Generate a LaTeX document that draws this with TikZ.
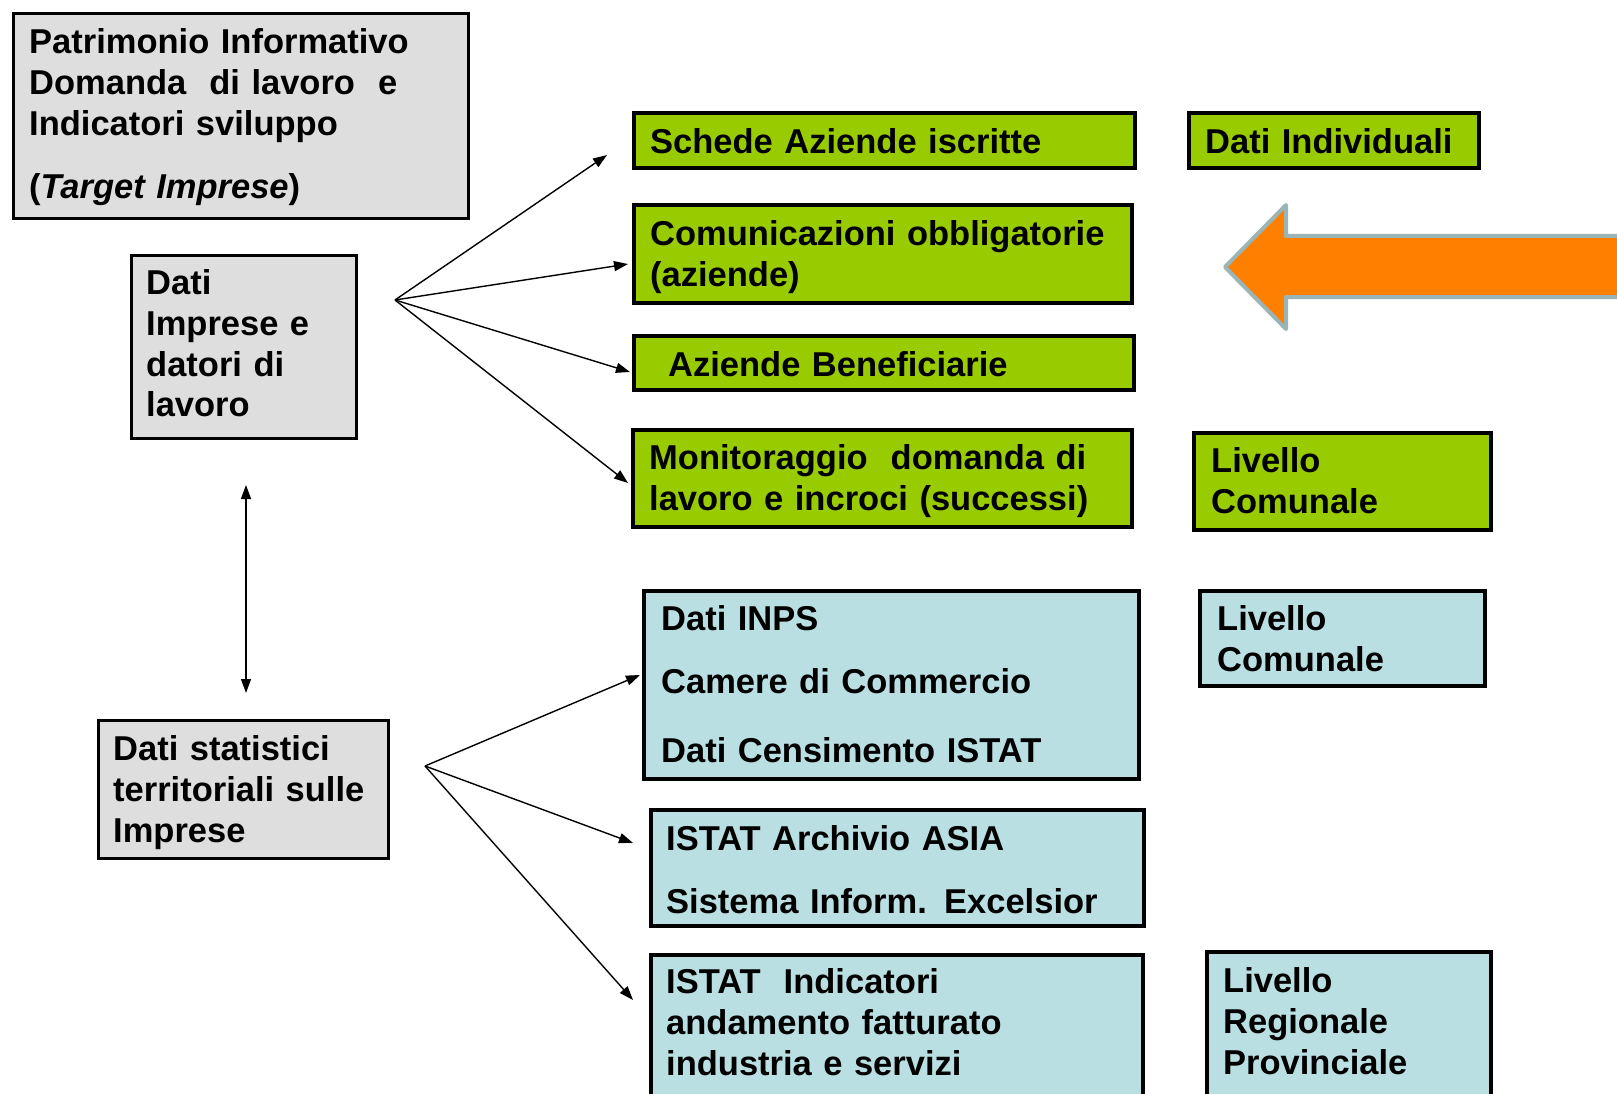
\documentclass[tikz,border=0pt]{standalone}
\usepackage{fontspec}
\setmainfont{Liberation Sans}
\usetikzlibrary{arrows.meta}
\definecolor{greyfill}{HTML}{DEDEDE}
\definecolor{greenfill}{HTML}{99CC00}
\definecolor{bluefill}{HTML}{B9DFE2}
\definecolor{orangefill}{HTML}{FF8000}
\definecolor{arrowedge}{HTML}{9BB4B6}
\begin{document}
\begin{tikzpicture}[x=1pt,y=-1pt,
  box/.style={draw=black, inner sep=0pt, outer sep=0pt, anchor=north west},
  greybox/.style={box, fill=greyfill, line width=3pt},
  greenbox/.style={box, fill=greenfill, line width=4pt},
  bluebox/.style={box, fill=bluefill, line width=3.5pt},
  txt/.style={anchor=base west, inner sep=0pt, text width=520pt, align=left,
    font=\fontsize{34.5}{41}\selectfont\bfseries},
  conn/.style={line width=1.4pt, -{Triangle[length=14pt,width=10pt]}},
  biconn/.style={line width=1.4pt, {Triangle[length=14pt,width=10pt]}-{Triangle[length=14pt,width=10pt]}}
]
\useasboundingbox (0,0) rectangle (1617,1094);
\fill[white] (0,0) rectangle (1617,1094);

% grey boxes
\node[greybox, minimum width=455pt, minimum height=205pt] (patr) at (13.5,13.5) {};
\node[txt] (patrt) at (29,54) {Patrimonio Informativo\\Domanda\ \ di lavoro\ \ e\\Indicatori sviluppo\\[22pt](\textit{Target Imprese})};
\node[greybox, minimum width=225pt, minimum height=183pt] (imp) at (131.5,255.5) {};
\node[txt] (impt) at (146,294) {Dati\\Imprese e\\datori di\\lavoro};
\node[greybox, minimum width=290pt, minimum height=138pt] (stat) at (98.5,720.5) {};
\node[txt] (statt) at (113,760) {Dati statistici\\territoriali sulle\\Imprese};

% green boxes
\node[greenbox, minimum width=501pt, minimum height=55pt] (schede) at (634,113) {};
\node[txt] (schedet) at (650,154) {Schede Aziende iscritte};
\node[greenbox, minimum width=498pt, minimum height=98pt] (comun) at (634,205) {};
\node[txt] (comunt) at (650,245) {Comunicazioni obbligatorie\\(aziende)};
\node[greenbox, minimum width=500pt, minimum height=54pt] (benef) at (634,336) {};
\node[txt] (beneft) at (668,376) {Aziende Beneficiarie};
\node[greenbox, minimum width=499pt, minimum height=97pt] (monit) at (633,430) {};
\node[txt] (monitt) at (649,469) {Monitoraggio\ \ domanda di\\lavoro e incroci (successi)};
\node[greenbox, minimum width=290pt, minimum height=55pt] (indiv) at (1189,113) {};
\node[txt] (indivt) at (1205,154) {Dati Individuali};
\node[greenbox, minimum width=297pt, minimum height=97pt] (livg) at (1194,433) {};
\node[txt] (livgt) at (1211,472) {Livello\\Comunale};

% blue boxes
\node[bluebox, minimum width=495pt, minimum height=188pt] (inps) at (644,591) {};
\node[txt] (inpst) at (661,630) {Dati INPS\\[22pt]Camere di Commercio\\[28pt]Dati Censimento ISTAT};
\node[bluebox, minimum width=493pt, minimum height=116pt] (asia) at (651,810) {};
\node[txt] (asiat) at (666,850) {ISTAT Archivio ASIA\\[22pt]Sistema Inform. Excelsior};
\node[bluebox, minimum width=492pt, minimum height=160pt] (fatt) at (651,955) {};
\node[txt] (fattt) at (666,993) {ISTAT\ \ Indicatori\\andamento fatturato\\industria e servizi};
\node[bluebox, minimum width=285pt, minimum height=95pt] (livb) at (1200,591) {};
\node[txt] (livbt) at (1217,630) {Livello\\Comunale};
\node[bluebox, minimum width=284pt, minimum height=165pt] (livr) at (1207,952) {};
\node[txt] (livrt) at (1223,992) {Livello\\Regionale\\Provinciale};

% orange arrow
\draw[fill=orangefill, draw=arrowedge, line width=4pt, line join=round]
  (1225,267) -- (1286,205) -- (1286,236) -- (1640,236) -- (1640,297) -- (1286,297) -- (1286,329) -- cycle;

% fan 1
\coordinate (f1) at (395,300);
\coordinate (a1) at (607,155);
\coordinate (a2) at (628,264);
\coordinate (a3) at (630,372);
\coordinate (a4) at (628,483);
\draw[conn] (f1) -- (a1);
\draw[conn] (f1) -- (a2);
\draw[conn] (f1) -- (a3);
\draw[conn] (f1) -- (a4);

% fan 2
\coordinate (f2) at (425,766);
\coordinate (b1) at (640,675);
\coordinate (b2) at (633,843);
\coordinate (b3) at (633,1000);
\draw[conn] (f2) -- (b1);
\draw[conn] (f2) -- (b2);
\draw[conn] (f2) -- (b3);

% vertical double arrow
\coordinate (v1) at (246,485);
\coordinate (v2) at (246,693);
\draw[biconn] (v1) -- (v2);
\end{tikzpicture}
\end{document}
